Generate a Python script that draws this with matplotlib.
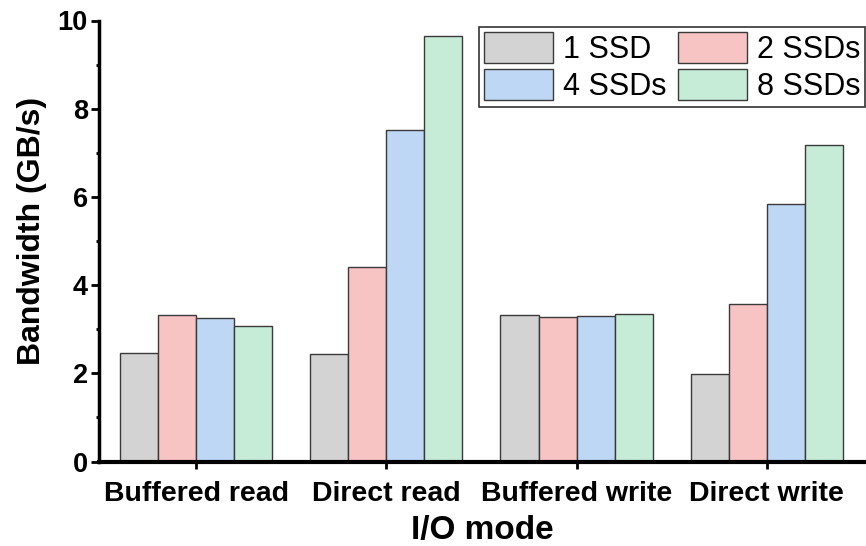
import matplotlib
matplotlib.use("Agg")
import matplotlib.pyplot as plt
import numpy as np
from matplotlib.ticker import MultipleLocator

plt.rcParams['font.family'] = ['Liberation Sans', 'DejaVu Sans']

modes = ["Buffered read", "Direct read", "Buffered write", "Direct write"]
series_names = ["1 SSD", "2 SSDs", "4 SSDs", "8 SSDs"]
ssd1 = [2.45, 2.44, 3.32, 1.98]
ssd2 = [3.33, 4.40, 3.27, 3.57]
ssd4 = [3.25, 7.52, 3.31, 5.83]
ssd8 = [3.08, 9.65, 3.34, 7.17]
colors = ["#D3D3D3", "#F8C3C3", "#BDD7F5", "#C6ECD8"]

fig = plt.figure(figsize=(8.66, 5.46), dpi=100)
ax = fig.add_axes([99 / 866, (546 - 461.5) / 546, 1 - 99 / 866, 441 / 546])

x = np.arange(len(modes))
width = 0.2
bars = []
for i, (vals, name, c) in enumerate(zip([ssd1, ssd2, ssd4, ssd8], series_names, colors)):
    b = ax.bar(x + (i - 1.5) * width, vals, width, color=c, edgecolor="#3a3a3a",
               linewidth=1.0, label=name, zorder=2)
    bars.append(b)

ax.set_xlim(-0.51, 3.521)
ax.set_ylim(0, 10)
ax.yaxis.set_major_locator(MultipleLocator(2))
ax.yaxis.set_minor_locator(MultipleLocator(1))
ax.set_xticks(x)
ax.set_xticklabels(modes, fontsize=20.5, fontweight="bold")
for lbl in ax.get_yticklabels():
    lbl.set_fontsize(19.5)
    lbl.set_fontweight("bold")

ax.spines["top"].set_visible(False)
ax.spines["right"].set_visible(False)
ax.spines["left"].set_linewidth(2.5)
ax.spines["bottom"].set_linewidth(3)
ax.tick_params(axis="y", which="major", direction="out", length=6, width=2, pad=2)
ax.tick_params(axis="y", which="minor", direction="out", length=2.5, width=2)
ax.tick_params(axis="x", which="major", direction="out", length=5, width=2, pad=9)

ax.set_ylabel("Bandwidth (GB/s)", fontsize=23, fontweight="bold")
ax.yaxis.set_label_coords(-0.068, 0.5227)
ax.set_xlabel("I/O mode", fontsize=24, fontweight="bold", labelpad=6)

# row-major legend order: 1 SSD, 2 SSDs / 4 SSDs, 8 SSDs
order = [0, 2, 1, 3]
fs = 22
px = fs * 100 / 72
leg = ax.legend([bars[k] for k in order], [series_names[k] for k in order],
                ncol=2, loc="upper left", bbox_to_anchor=(479 / 866, 1 - 27 / 546),
                bbox_transform=fig.transFigure, borderaxespad=0, fontsize=fs,
                frameon=True, fancybox=False, edgecolor="black",
                handlelength=69 / px, handleheight=36 / px, handletextpad=10 / px,
                columnspacing=11 / px, labelspacing=0.14, borderpad=0.17)
leg.get_frame().set_linewidth(1.2)

fig.savefig("out.png", dpi=100)
